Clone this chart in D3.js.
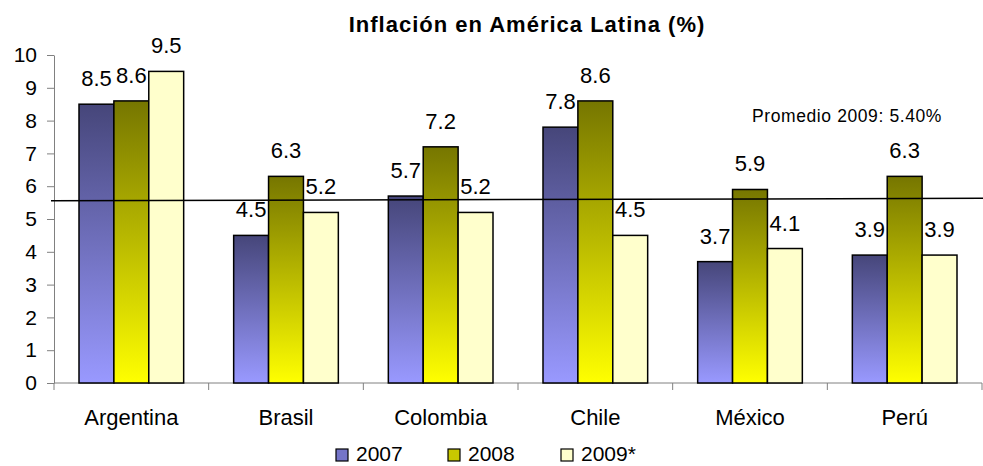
<!DOCTYPE html>
<html>
<head>
<meta charset="utf-8">
<script src="https://cdn.jsdelivr.net/npm/d3@7"></script>
<style>
  body { margin: 0; background: #fff; }
  svg { font-family: "Liberation Sans", Arial, sans-serif; }
  .axis path, .axis line { stroke: #808080; }
  .axis text { font-size: 21px; fill: #000; }
</style>
</head>
<body>
<div id="chart"></div>
<script>
// data
var countries = ["Argentina", "Brasil", "Colombia", "Chile", "México", "Perú"];
var seriesNames = ["2007", "2008", "2009*"];
var values2007 = [8.5, 4.5, 5.7, 7.8, 3.7, 3.9];
var values2008 = [8.6, 6.3, 7.2, 8.6, 5.9, 6.3];
var values2009 = [9.5, 5.2, 5.2, 4.5, 4.1, 3.9];
var yTicks = [0, 1, 2, 3, 4, 5, 6, 7, 8, 9, 10];
var avgLine = [5.56, 5.63]; // drawn line, left end and right end
var avgLabel = "Promedio 2009: 5.40%";

var allSeries = [values2007, values2008, values2009];

var width = 983, height = 466;
var margin = {top: 55, right: 1, bottom: 83, left: 54};
var plotW = width - margin.left - margin.right;
var plotH = height - margin.top - margin.bottom;

var svg = d3.select("#chart").append("svg")
  .attr("width", width)
  .attr("height", height);

// gradients, one per series, top dark to bottom light
var defs = svg.append("defs");
var grads = [
  {id: "g2007", top: "#46467a", bottom: "#9999ff"},
  {id: "g2008", top: "#767600", bottom: "#ffff00"},
  {id: "g2009", top: "#ffffcc", bottom: "#ffffcc"}
];
grads.forEach(function(g) {
  var lg = defs.append("linearGradient")
    .attr("id", g.id)
    .attr("x1", 0).attr("y1", 0).attr("x2", 0).attr("y2", 1);
  lg.append("stop").attr("offset", "0%").attr("stop-color", g.top);
  lg.append("stop").attr("offset", "100%").attr("stop-color", g.bottom);
});
var legendFill = ["#7474c8", "#c8c800", "#ffffcc"];

var chart = svg.append("g")
  .attr("transform", "translate(" + margin.left + "," + margin.top + ")");

// scales
var x0 = d3.scaleBand().domain(countries).range([0, plotW]).paddingInner(0).paddingOuter(0);
var x1 = d3.scaleBand().domain(seriesNames).range([25, x0.bandwidth() - 25]);
var y = d3.scaleLinear().domain([0, 10]).range([plotH, 0]);

// y axis
chart.append("g")
  .attr("class", "axis y-axis")
  .call(d3.axisLeft(y).tickValues(yTicks).tickSize(7).tickPadding(10).tickSizeOuter(0))
  .call(function(g) { g.selectAll(".tick line").attr("stroke", "#333"); });

// x axis with ticks at category boundaries
var xAxis = chart.append("g")
  .attr("class", "axis x-axis")
  .attr("transform", "translate(0," + plotH + ")");
xAxis.append("line")
  .attr("x1", 0).attr("x2", plotW)
  .attr("stroke", "#808080");
xAxis.selectAll(".sep")
  .data(d3.range(countries.length + 1))
  .enter().append("line")
  .attr("class", "sep")
  .attr("x1", function(i) { return i * x0.step(); })
  .attr("x2", function(i) { return i * x0.step(); })
  .attr("y1", 0).attr("y2", 7)
  .attr("stroke", "#333");
xAxis.selectAll(".cat")
  .data(countries)
  .enter().append("text")
  .attr("class", "cat")
  .attr("x", function(d) { return x0(d) + x0.bandwidth() / 2; })
  .attr("y", 42)
  .attr("text-anchor", "middle")
  .style("font-size", "22px")
  .text(function(d) { return d; });

// bars
var groups = chart.selectAll(".country")
  .data(countries)
  .enter().append("g")
  .attr("class", "country")
  .attr("transform", function(d) { return "translate(" + x0(d) + ",0)"; });

groups.selectAll("rect")
  .data(function(d, i) {
    return seriesNames.map(function(s, j) { return {series: s, j: j, value: allSeries[j][i]}; });
  })
  .enter().append("rect")
  .attr("x", function(d) { return x1(d.series); })
  .attr("y", function(d) { return y(d.value); })
  .attr("width", x1.bandwidth())
  .attr("height", function(d) { return plotH - y(d.value); })
  .attr("fill", function(d) { return "url(#" + grads[d.j].id + ")"; })
  .attr("stroke", "#000")
  .attr("stroke-width", 1.5);

// average line
chart.append("line")
  .attr("x1", -3).attr("x2", plotW + 1)
  .attr("y1", y(avgLine[0])).attr("y2", y(avgLine[1]))
  .attr("stroke", "#000")
  .attr("stroke-width", 1.5);

// value labels
groups.selectAll(".val")
  .data(function(d, i) {
    return seriesNames.map(function(s, j) { return {series: s, value: allSeries[j][i]}; });
  })
  .enter().append("text")
  .attr("class", "val")
  .attr("x", function(d) { return x1(d.series) + x1.bandwidth() / 2; })
  .attr("y", function(d) { return y(d.value) - 18; })
  .attr("text-anchor", "middle")
  .style("font-size", "22px")
  .text(function(d) { return d.value.toFixed(1); });

// average label
chart.append("text")
  .attr("x", 793)
  .attr("y", 67)
  .attr("text-anchor", "middle")
  .style("font-size", "17.5px")
  .style("letter-spacing", "0.6px")
  .text(avgLabel);

// title
svg.append("text")
  .attr("x", 527)
  .attr("y", 32)
  .attr("text-anchor", "middle")
  .style("font-size", "22px")
  .style("font-weight", "bold")
  .style("letter-spacing", "1px")
  .text("Inflación en América Latina (%)");

// legend
var legendX = [336, 448, 561];
var legend = svg.selectAll(".legend-group")
  .data(seriesNames)
  .enter().append("g")
  .attr("class", "legend-group")
  .attr("transform", function(d, i) { return "translate(" + legendX[i] + ",449)"; });
legend.append("rect")
  .attr("width", 12).attr("height", 12)
  .attr("fill", function(d, i) { return legendFill[i]; })
  .attr("stroke", "#000")
  .attr("stroke-width", 1.2);
legend.append("text")
  .attr("x", 20)
  .attr("y", 12)
  .style("font-size", "21px")
  .text(function(d) { return d; });
</script>
</body>
</html>
